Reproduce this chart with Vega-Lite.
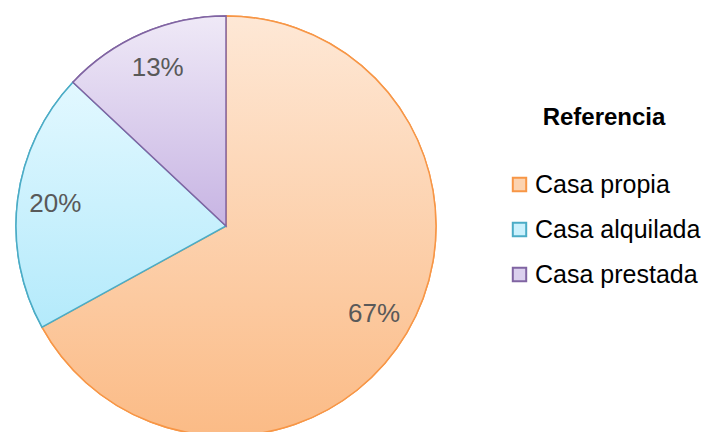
{
  "$schema": "https://vega.github.io/schema/vega-lite/v6.json",
  "width": 420,
  "height": 420,
  "autosize": {"type": "none"},
  "padding": {"left": 16, "top": 16, "right": 273, "bottom": 0},
  "background": "white",
  "data": {
    "values": [
      {"tipo": "Casa propia", "valor": 67, "orden": 1, "etiqueta": "67%"},
      {"tipo": "Casa alquilada", "valor": 20, "orden": 2, "etiqueta": "20%"},
      {"tipo": "Casa prestada", "valor": 13, "orden": 3, "etiqueta": "13%"}
    ]
  },
  "transform": [
    {"stack": "valor", "groupby": [], "sort": [{"field": "orden", "order": "ascending"}], "as": ["ini", "fin"]}
  ],
  "encoding": {
    "theta": {"field": "ini", "type": "quantitative", "scale": {"domain": [0, 100]}},
    "theta2": {"field": "fin"}
  },
  "layer": [
    {
      "mark": {"type": "arc", "strokeWidth": 1.5},
      "encoding": {
        "fill": {
          "field": "tipo",
          "type": "nominal",
          "sort": ["Casa propia", "Casa alquilada", "Casa prestada"],
          "scale": {
            "domain": ["Casa propia", "Casa alquilada", "Casa prestada"],
            "range": ["#fcd3b0", "#cbf1fd", "#dbd0ee"]
          },
          "legend": {"title": "Referencia"}
        },
        "stroke": {
          "field": "tipo",
          "type": "nominal",
          "sort": ["Casa propia", "Casa alquilada", "Casa prestada"],
          "scale": {
            "domain": ["Casa propia", "Casa alquilada", "Casa prestada"],
            "range": ["#f79646", "#4bacc6", "#8064a2"]
          },
          "legend": {"title": "Referencia"}
        }
      }
    },
    {
      "transform": [{"filter": "datum.tipo === 'Casa propia'"}],
      "mark": {"type": "arc", "strokeWidth": 1.5, "stroke": "#f79646",
        "fill": {"gradient": "linear", "x1": 0, "y1": 0, "x2": 0, "y2": 1, "stops": [{"offset": 0, "color": "#fee8d6"}, {"offset": 1, "color": "#fbbb86"}]}}
    },
    {
      "transform": [{"filter": "datum.tipo === 'Casa alquilada'"}],
      "mark": {"type": "arc", "strokeWidth": 1.5, "stroke": "#4bacc6",
        "fill": {"gradient": "linear", "x1": 0, "y1": 0, "x2": 0, "y2": 1, "stops": [{"offset": 0, "color": "#e2f8ff"}, {"offset": 1, "color": "#b4eafb"}]}}
    },
    {
      "transform": [{"filter": "datum.tipo === 'Casa prestada'"}],
      "mark": {"type": "arc", "strokeWidth": 1.5, "stroke": "#8064a2",
        "fill": {"gradient": "linear", "x1": 0, "y1": 0, "x2": 0, "y2": 1, "stops": [{"offset": 0, "color": "#efe9f7"}, {"offset": 1, "color": "#c7b4e3"}]}}
    },
    {
      "mark": {"type": "text", "radius": 172, "fontSize": 26, "font": "Liberation Sans", "fill": "#595959"},
      "encoding": {
        "theta": {"field": "valor", "type": "quantitative", "stack": true},
        "theta2": null,
        "order": {"field": "orden", "type": "quantitative"},
        "text": {"field": "etiqueta", "type": "nominal"}
      }
    }
  ],
  "config": {
    "view": {"stroke": null},
    "legend": {
      "orient": "none",
      "legendX": 491,
      "legendY": 90,
      "padding": 0,
      "titleFont": "Liberation Sans",
      "titleFontSize": 24,
      "titleFontWeight": "bold",
      "titleColor": "#000000",
      "titleAnchor": "middle",
      "titlePadding": 42,
      "labelFont": "Liberation Sans",
      "labelFontSize": 25,
      "labelColor": "#000000",
      "labelOffset": 3,
      "labelLimit": 300,
      "symbolType": "square",
      "symbolSize": 180,
      "symbolStrokeWidth": 2,
      "rowPadding": 19
    }
  }
}
